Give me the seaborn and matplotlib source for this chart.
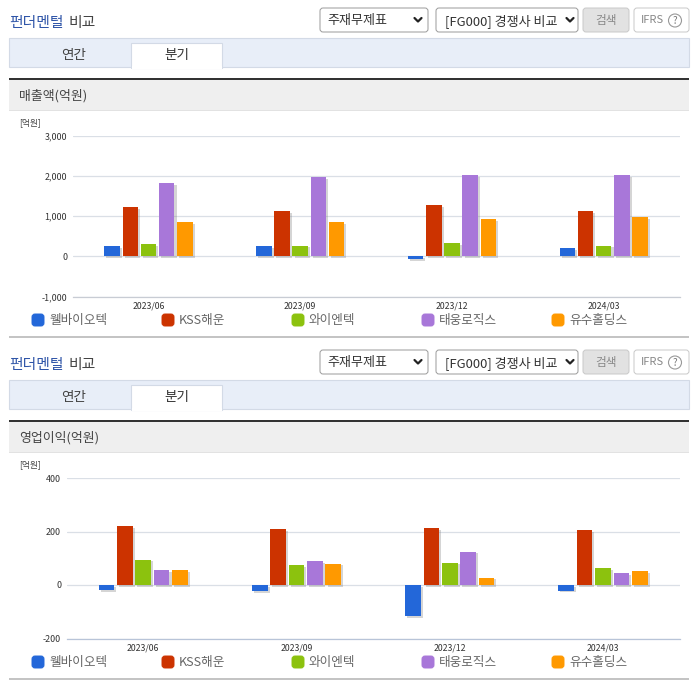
import pandas as pd
import seaborn as sns
from matplotlib import pyplot as plt
from matplotlib import patheffects as pe
from matplotlib.patches import Rectangle, FancyBboxPatch, Circle

sns.set_style("white")
plt.rcParams['font.family'] = ['Noto Sans CJK KR', 'DejaVu Sans']

periods = ["2023/06", "2023/09", "2023/12", "2024/03"]
companies = ["웰바이오텍", "KSS해운", "와이엔텍", "태웅로직스", "유수홀딩스"]
colors = ["#2367d9", "#cc3300", "#8cc20e", "#a877d9", "#ff9900"]

# 매출액
sales_welbio = [245, 245, -65, 198]
sales_kss = [1215, 1117, 1265, 1117]
sales_yn = [298, 265, 322, 265]
sales_taewoong = [1810, 1960, 2010, 2010]
sales_yusu = [843, 843, 918, 968]
sales_ticks = [-1000, 0, 1000, 2000, 3000]
sales_labels = ["-1,000", "0", "1,000", "2,000", "3,000"]

# 영업이익
profit_welbio = [-18, -24, -117, -21]
profit_kss = [221, 210, 214, 205]
profit_yn = [95, 73, 84, 62]
profit_taewoong = [57, 90, 125, 43]
profit_yusu = [57, 80, 28, 51]
profit_ticks = [-200, 0, 200, 400]
profit_labels = ["-200", "0", "200", "400"]


def make_df(rows):
    out = []
    for name, vals in zip(companies, rows):
        for p, v in zip(periods, vals):
            out.append({"period": p, "company": name, "value": v})
    return pd.DataFrame(out)


fig = plt.figure(figsize=(6.96, 6.84), dpi=100, facecolor="white")

# page overlay in pixel coords
bg = fig.add_axes([0, 0, 1, 1])
bg.set_xlim(0, 696)
bg.set_ylim(684, 0)
bg.axis("off")


def box(x0, y0, x1, y1, fc, ec="none", lw=0.8):
    bg.add_patch(Rectangle((x0, y0), x1 - x0, y1 - y0, fc=fc, ec=ec, lw=lw))


def rbox(x0, y0, x1, y1, fc, ec):
    bg.add_patch(FancyBboxPatch((x0 + 2, y0 + 2), x1 - x0 - 4, y1 - y0 - 4,
                                boxstyle="round,pad=2,rounding_size=3", fc=fc, ec=ec, lw=0.7))


def chevron(x, y):
    bg.plot([x - 3.5, x, x + 3.5], [y - 2, y + 1.5, y - 2], color="#222222", lw=1.6)


def header(dy, metric):
    bg.text(9, 23 + dy, "펀더멘털", color="#2f55a8", fontsize=10.7, va="center", fontweight="medium")
    bg.text(69, 23 + dy, "비교", color="#444444", fontsize=10.7, va="center", fontweight="medium")

    rbox(320, 8 + dy, 428, 32 + dy, "white", "#9a9a9a")
    bg.text(327, 20.8 + dy, "주재무제표", fontsize=9.4, color="#333333", va="center")
    chevron(418, 20 + dy)
    rbox(436, 8 + dy, 578, 32 + dy, "white", "#9a9a9a")
    bg.text(445, 20.8 + dy, "[FG000] 경쟁사 비교", fontsize=9.4, color="#333333", va="center")
    chevron(570, 20 + dy)
    rbox(583, 8 + dy, 629, 32 + dy, "#e2e2e2", "#c8c8c8")
    bg.text(606, 20.8 + dy, "검색", fontsize=8.4, color="#888888", va="center", ha="center")
    rbox(634, 8 + dy, 689, 32 + dy, "white", "#c8c8c8")
    bg.text(641, 20 + dy, "IFRS", fontsize=8, color="#888888", va="center")
    bg.add_patch(Circle((675, 20.5 + dy), 6.5, fc="white", ec="#999999", lw=0.8))
    bg.text(675, 20.5 + dy, "?", fontsize=7, color="#777777", va="center", ha="center")

    box(9, 38 + dy, 689, 67 + dy, "#e8eef8", "#d3dae6")
    box(131, 43 + dy, 222, 68 + dy, "white", "#d3dae6")
    box(131.5, 66 + dy, 221.5, 68.5 + dy, "white")
    bg.text(74, 54.5 + dy, "연간", fontsize=9.8, color="#444444", va="center", ha="center")
    bg.text(176.5, 54.5 + dy, "분기", fontsize=9.8, color="#333333", va="center", ha="center")

    box(9, 80 + dy, 689, 110 + dy, "#efefef")
    box(9, 78 + dy, 689, 80 + dy, "#333333")
    box(9, 110 + dy, 689, 111 + dy, "#e2e2e2")
    bg.text(19, 95.6 + dy, metric, fontsize=9.3, color="#444444", va="center")
    bg.text(19, 122.5 + dy, "[억원]", fontsize=6.3, color="#444444", va="center")

    for i, (name, c) in enumerate(zip(companies, colors)):
        x = 32 + 130 * i
        rbox(x, 314 + dy, x + 12, 326 + dy, c, c)
        bg.text(x + 17, 320.8 + dy, name, fontsize=9.1, color="#666666", va="center")

    box(9, 335.5 + dy, 689, 337.5 + dy, "#c4c4c4")


def chart(rows, ticks, labels, left, top, bottom, axis_color):
    ax = fig.add_axes([left / 696, 1 - bottom / 684, (679.6 - left) / 696, (bottom - top) / 684])
    ax.patch.set_alpha(0)
    sns.barplot(data=make_df(rows), x="period", y="value", hue="company", palette=colors,
                hue_order=companies, width=0.6, gap=0.15, saturation=1, legend=False,
                linewidth=0, ax=ax, zorder=3)
    for bar in ax.patches:
        bar.set_path_effects([pe.SimplePatchShadow(offset=(1.5, -1.3), shadow_rgbFace="#777777", alpha=0.3),
                              pe.Normal()])
    ax.set_xlim(-0.5, 3.5)
    ax.set_ylim(ticks[0], ticks[-1])
    ax.set_xlabel("")
    ax.set_ylabel("")
    ax.set_yticks(ticks, labels)
    ax.tick_params(axis="y", length=0, pad=4, labelsize=6.4, labelcolor="#333333")
    ax.set_xticks(range(len(periods)), periods)
    ax.tick_params(axis="x", which="major", length=0, pad=3.5, labelsize=6.3, labelcolor="#333333")
    ax.set_xticks([-0.5, 0.5, 1.5, 2.5, 3.5], minor=True)
    ax.tick_params(axis="x", which="minor", length=3.5, width=0.8, color=axis_color)
    ax.grid(axis="y", color="#dadfe6", lw=0.9, zorder=0)
    ax.set_axisbelow(True)
    for s in ["top", "left", "right"]:
        ax.spines[s].set_visible(False)
    ax.spines["bottom"].set_color(axis_color)
    ax.spines["bottom"].set_linewidth(0.9)
    return ax


header(0, "매출액(억원)")
chart([sales_welbio, sales_kss, sales_yn, sales_taewoong, sales_yusu],
      sales_ticks, sales_labels, 72.6, 135.5, 296.5, "#c8ccd4")

header(342, "영업이익(억원)")
chart([profit_welbio, profit_kss, profit_yn, profit_taewoong, profit_yusu],
      profit_ticks, profit_labels, 66.6, 478, 638.5, "#b8c4d8")

plt.savefig("out.png", dpi=100)
